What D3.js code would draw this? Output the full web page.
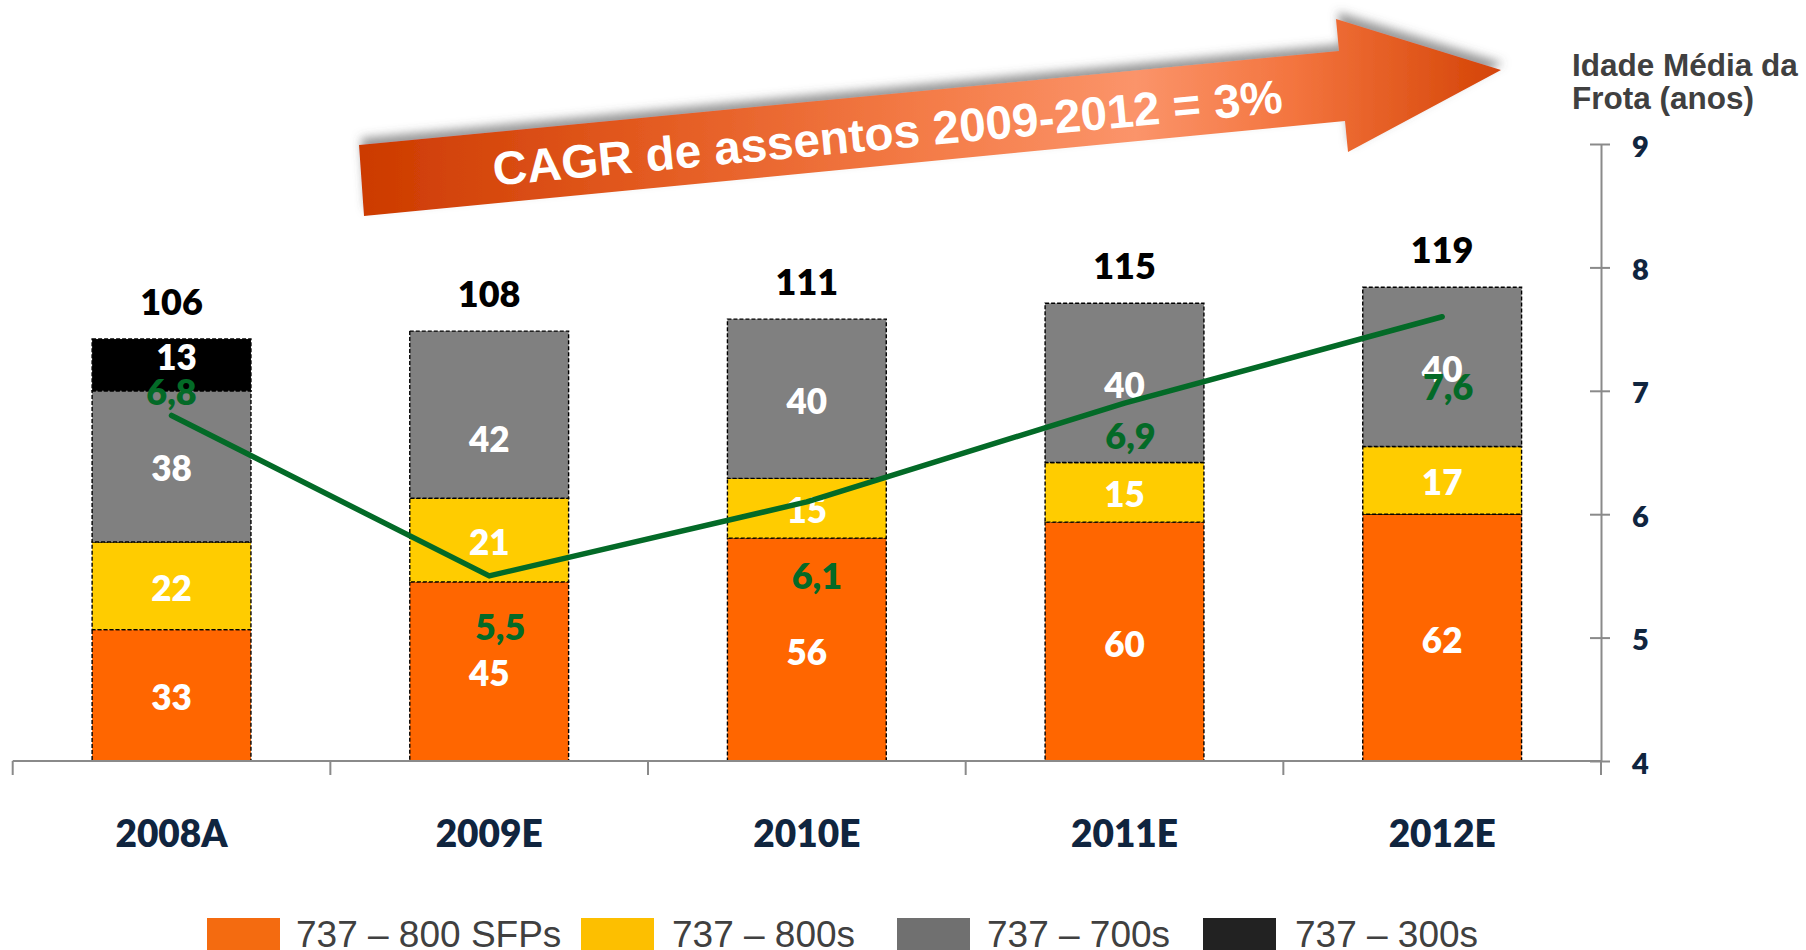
<!DOCTYPE html>
<html>
<head>
<meta charset="utf-8">
<script src="https://cdn.jsdelivr.net/npm/d3@7"></script>
<style>
  html, body { margin: 0; padding: 0; background: #ffffff; overflow: hidden; }
  svg { display: block; }
</style>
</head>
<body>
<svg id="chart" width="1806" height="950"></svg>
<script>
// ---------------- DATA ----------------
const categories = ["2008A", "2009E", "2010E", "2011E", "2012E"];
const seriesKeys = ["sfp", "s800", "s700", "s300"];
const seriesNames = ["737 – 800 SFPs", "737 – 800s", "737 – 700s", "737 – 300s"];
const sfpValues = [33, 45, 56, 60, 62];
const s800Values = [22, 21, 15, 15, 17];
const s700Values = [38, 42, 40, 40, 40];
const s300Values = [13, 0, 0, 0, 0];
const totals = [106, 108, 111, 115, 119];
const fleetAge = [6.8, 5.5, 6.1, 6.9, 7.6];
const fleetAgeLabels = ["6,8", "5,5", "6,1", "6,9", "7,6"];
const ageTicks = [4, 5, 6, 7, 8, 9];
const axisTitleLines = ["Idade Média da", "Frota (anos)"];
const arrowText = "CAGR de assentos 2009-2012 = 3%";

// ---------------- STYLE / LAYOUT ----------------
const barColors = ["#ff6600", "#ffcc00", "#808080", "#000000"];
const legendColors = ["#f46b10", "#fdbf00", "#707070", "#222222"];
const navy = "#10253f";
const green = "#036a27";
const numFont = "Lato, 'Open Sans', sans-serif";
const numWeight = 800;
const arialFont = "'Liberation Sans', Arial, sans-serif";

const svg = d3.select("#chart");
const plotLeft = 12.7, plotRight = 1601, plotBottom = 761, plotTop = 144;

const x = d3.scaleBand().domain(categories).range([plotLeft, plotRight]).paddingInner(0.5).paddingOuter(0.25);
const y = d3.scaleLinear().domain([0, 155]).range([plotBottom, plotTop]);
const yAge = d3.scaleLinear().domain([4, 9]).range([plotBottom, plotTop]);

const table = categories.map((c, i) => ({
  cat: c, sfp: sfpValues[i], s800: s800Values[i], s700: s700Values[i], s300: s300Values[i]
}));
const stacked = d3.stack().keys(seriesKeys)(table);

// ---------------- ARROW ----------------
const defs = svg.append("defs");
const grad = defs.append("linearGradient").attr("id", "arrowGrad")
  .attr("gradientUnits", "userSpaceOnUse").attr("x1", 359).attr("y1", 0).attr("x2", 1501).attr("y2", 0);
[[0, "#cc3a00"], [0.25, "#e35a20"], [0.5, "#f47c48"], [0.68, "#fb946a"], [0.82, "#f3743e"], [1, "#d44406"]]
  .forEach(([o, c]) => grad.append("stop").attr("offset", o).attr("stop-color", c));
const filt = defs.append("filter").attr("id", "arrowShadow").attr("x", "-10%").attr("y", "-40%").attr("width", "120%").attr("height", "180%");
filt.append("feDropShadow").attr("dx", 2).attr("dy", -7).attr("stdDeviation", 5)
  .attr("flood-color", "#555").attr("flood-opacity", 0.6);

const arrowPts = [[359, 145], [1339, 51], [1336, 19], [1501, 70], [1348, 152], [1345, 121], [364, 216]];
svg.append("path")
  .attr("d", d3.line()(arrowPts) + "Z")
  .attr("fill", "url(#arrowGrad)")
  .attr("filter", "url(#arrowShadow)");

svg.append("text")
  .attr("transform", "translate(889,149) rotate(-5.3)")
  .attr("text-anchor", "middle")
  .attr("font-family", arialFont).attr("font-weight", "bold").attr("font-size", 47)
  .attr("fill", "#ffffff")
  .attr("textLength", 793).attr("lengthAdjust", "spacingAndGlyphs")
  .text(arrowText);

// ---------------- BARS ----------------
const layers = svg.append("g").selectAll("g").data(stacked).join("g")
  .attr("fill", (d, i) => barColors[i]);
layers.selectAll("rect").data(d => d.filter(s => s[1] - s[0] > 0)).join("rect")
  .attr("x", d => x(d.data.cat))
  .attr("width", x.bandwidth())
  .attr("y", d => y(d[1]))
  .attr("height", d => y(d[0]) - y(d[1]))
  .attr("stroke", "#000").attr("stroke-width", 1.4).attr("stroke-dasharray", "4,2");

// segment labels
const segNudgeY = { "2008A|s300": -10, "2009E|s700": 22 };
const segNudgeX = { "2008A|s300": 5 };
stacked.forEach((layer) => {
  svg.append("g").selectAll("text").data(layer.filter(s => s[1] - s[0] > 0)).join("text")
    .attr("x", d => x(d.data.cat) + x.bandwidth() / 2 + (segNudgeX[d.data.cat + "|" + layer.key] || 0))
    .attr("y", d => (y(d[0]) + y(d[1])) / 2 + 15 + (segNudgeY[d.data.cat + "|" + layer.key] || 0))
    .attr("text-anchor", "middle")
    .attr("font-family", numFont).attr("font-weight", numWeight).attr("font-size", 35)
    .attr("fill", "#ffffff")
    .text(d => d[1] - d[0]);
});

// totals
svg.append("g").selectAll("text").data(categories).join("text")
  .attr("x", (c) => x(c) + x.bandwidth() / 2)
  .attr("y", (c, i) => y(totals[i]) - 24)
  .attr("text-anchor", "middle")
  .attr("font-family", numFont).attr("font-weight", numWeight).attr("font-size", 36)
  .attr("fill", "#000")
  .text((c, i) => totals[i]);

// ---------------- AXES ----------------
const xAxis = svg.append("g").attr("transform", `translate(0,${plotBottom})`);
xAxis.append("line").attr("x1", plotLeft).attr("x2", plotRight).attr("y1", 0).attr("y2", 0)
  .attr("stroke", "#8a8a8a").attr("stroke-width", 2);
const bounds = d3.range(categories.length + 1).map(i => plotLeft + i * x.step());
xAxis.selectAll("line.tk").data(bounds).join("line").attr("class", "tk")
  .attr("x1", d => d).attr("x2", d => d).attr("y1", 0).attr("y2", 14)
  .attr("stroke", "#8a8a8a").attr("stroke-width", 2);
xAxis.selectAll("text").data(categories).join("text")
  .attr("x", c => x(c) + x.bandwidth() / 2)
  .attr("y", 86)
  .attr("text-anchor", "middle")
  .attr("font-family", numFont).attr("font-weight", numWeight).attr("font-size", 37)
  .attr("fill", navy)
  .text(c => c);

// right axis (fleet age)
const rAxis = svg.append("g").attr("transform", `translate(${plotRight},0)`)
  .call(d3.axisRight(yAge).tickValues(ageTicks).tickSize(0).tickFormat(d3.format("d")));
rAxis.select(".domain").attr("stroke", "#8a8a8a").attr("stroke-width", 2);
rAxis.selectAll(".tick line").remove();
rAxis.selectAll(".tick").append("line").attr("x1", -11).attr("x2", 9).attr("y1", 0).attr("y2", 0)
  .attr("stroke", "#8a8a8a").attr("stroke-width", 2);
rAxis.selectAll(".tick text")
  .attr("x", 31).attr("dy", null).attr("y", 12)
  .attr("text-anchor", "start")
  .attr("font-family", numFont).attr("font-weight", numWeight).attr("font-size", 29)
  .attr("fill", navy);

svg.append("g").selectAll("text").data(axisTitleLines).join("text")
  .attr("x", 1572).attr("y", (d, i) => 76 + i * 33)
  .attr("font-family", arialFont).attr("font-weight", "bold").attr("font-size", 31.5)
  .attr("fill", "#404040")
  .text(d => d);

// ---------------- LINE ----------------
const linePts = categories.map((c, i) => [x(c) + x.bandwidth() / 2, yAge(fleetAge[i])]);
svg.append("path")
  .attr("d", d3.line()(linePts))
  .attr("fill", "none").attr("stroke", green).attr("stroke-width", 5.5)
  .attr("stroke-linecap", "round").attr("stroke-linejoin", "round");

const ageLabelDx = [0, 11, 10, 6, 6];
const ageLabelDy = [-23, 51, 74, 33, 70];
svg.append("g").selectAll("text").data(fleetAgeLabels).join("text")
  .attr("x", (d, i) => linePts[i][0] + ageLabelDx[i])
  .attr("y", (d, i) => linePts[i][1] + ageLabelDy[i] + 13)
  .attr("text-anchor", "middle")
  .attr("font-family", numFont).attr("font-weight", numWeight).attr("font-size", 36)
  .attr("fill", green)
  .text(d => d);

// ---------------- LEGEND ----------------
const legendSwatchX = [207, 581, 897, 1203];
const legendTextX = [296, 672, 987, 1295];
const legend = svg.append("g");
seriesNames.forEach((name, i) => {
  legend.append("rect").attr("x", legendSwatchX[i]).attr("y", 918).attr("width", 73).attr("height", 40)
    .attr("fill", legendColors[i]);
  legend.append("text").attr("x", legendTextX[i]).attr("y", 947)
    .attr("font-family", arialFont).attr("font-size", 37).attr("fill", "#404040")
    .text(name);
});
</script>
</body>
</html>
